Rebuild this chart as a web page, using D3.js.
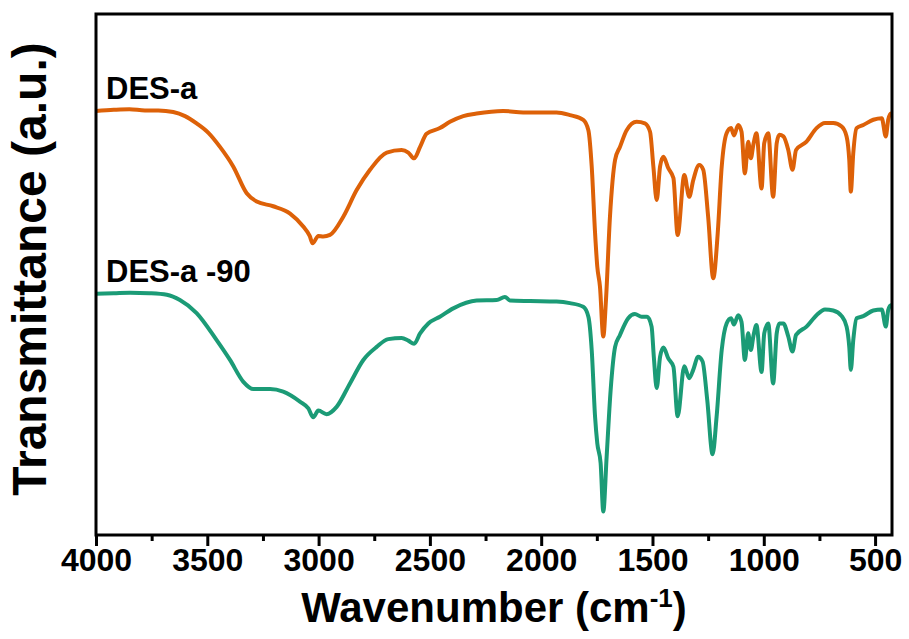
<!DOCTYPE html>
<html>
<head>
<meta charset="utf-8">
<script src="https://cdn.jsdelivr.net/npm/d3@7"></script>
<style>
  body { margin: 0; background: #fff; }
  text { font-family: "Liberation Sans", Arial, sans-serif; font-weight: bold; fill: #000; }
</style>
</head>
<body>
<div id="ftir"></div>
<script>
// wavenumber (cm-1) and transmittance (a.u.)
const desAWave = [4000, 3920, 3850, 3780, 3720, 3653, 3600, 3548, 3495, 3443, 3383, 3323, 3278, 3204, 3128, 3069, 3040, 3027, 3001, 2979, 2949, 2889, 2829, 2769, 2694, 2627, 2597, 2571, 2544, 2515, 2455, 2410, 2350, 2290, 2171, 2081, 1931, 1871, 1811, 1788, 1773, 1758, 1748, 1736, 1721, 1709, 1691, 1668, 1646, 1616, 1571, 1534, 1511, 1496, 1481, 1466, 1451, 1429, 1406, 1387, 1357, 1335, 1317, 1290, 1272, 1250, 1227, 1207, 1189, 1167, 1147, 1134, 1115, 1100, 1085, 1070, 1058, 1047, 1033, 1010, 998, 980, 958, 942, 930, 912, 890, 871, 855, 808, 763, 725, 688, 650, 628, 616, 609, 598, 583, 553, 508, 470, 452, 441, 429, 424];
const desAValues = [81.4, 81.6, 81.7, 81.5, 81.5, 81.2, 80.4, 79.0, 77.2, 74.5, 70.7, 65.6, 64.0, 63.1, 61.7, 59.2, 57.4, 56.0, 57.4, 57.3, 57.6, 61.1, 66.2, 70.1, 73.4, 73.9, 73.4, 72.3, 74.5, 77.0, 78.1, 79.3, 80.4, 80.9, 81.4, 81.1, 81.1, 80.6, 79.7, 77.7, 70.7, 58.0, 51.5, 47.7, 38.1, 45.1, 61.1, 72.0, 74.5, 77.7, 79.3, 79.0, 77.4, 70.7, 64.3, 70.7, 72.6, 70.4, 68.5, 57.6, 69.1, 64.9, 68.1, 71.0, 70.1, 61.1, 49.3, 57.9, 70.7, 77.1, 78.1, 76.7, 78.7, 77.4, 69.4, 75.5, 72.3, 74.9, 77.1, 66.5, 75.2, 77.1, 64.9, 75.2, 76.8, 76.5, 73.9, 70.1, 73.9, 75.5, 78.1, 79.1, 79.1, 78.4, 76.5, 72.0, 65.9, 73.3, 78.1, 78.7, 79.7, 80.0, 76.5, 79.7, 80.9, 80.8];

const desA90Wave = [4000, 3920, 3847, 3760, 3682, 3623, 3548, 3458, 3398, 3338, 3293, 3218, 3159, 3084, 3046, 3024, 3001, 2964, 2919, 2859, 2799, 2739, 2687, 2627, 2597, 2571, 2544, 2507, 2455, 2395, 2290, 2200, 2163, 2140, 2050, 1931, 1871, 1811, 1788, 1773, 1758, 1748, 1733, 1721, 1706, 1688, 1668, 1646, 1609, 1579, 1549, 1524, 1504, 1494, 1481, 1466, 1451, 1429, 1406, 1387, 1357, 1335, 1317, 1295, 1275, 1254, 1230, 1212, 1189, 1167, 1147, 1134, 1115, 1100, 1085, 1070, 1058, 1047, 1033, 1010, 998, 980, 958, 942, 930, 912, 890, 871, 855, 808, 763, 725, 688, 650, 628, 616, 609, 598, 583, 553, 508, 470, 452, 441, 429, 424];
const desA90Values = [46.3, 46.4, 46.5, 46.4, 46.1, 45.1, 42.6, 37.4, 33.6, 29.4, 28.0, 28.0, 27.5, 25.6, 24.3, 22.6, 23.9, 23.2, 24.6, 29.1, 33.6, 36.1, 37.6, 37.8, 37.3, 36.7, 38.7, 40.6, 41.9, 43.5, 45.0, 45.1, 45.7, 45.0, 44.9, 44.8, 44.5, 43.8, 41.9, 35.5, 22.7, 17.6, 13.8, 4.5, 15.0, 27.8, 36.1, 38.4, 41.6, 42.4, 41.9, 41.9, 40.0, 34.2, 28.2, 34.2, 36.0, 33.9, 32.3, 22.8, 32.4, 30.1, 31.7, 34.2, 33.3, 25.9, 15.5, 22.7, 35.5, 40.6, 41.6, 40.4, 42.2, 40.9, 33.6, 38.7, 35.5, 38.1, 40.3, 31.3, 38.7, 40.6, 29.1, 38.7, 40.6, 40.6, 38.1, 35.2, 38.4, 40.0, 42.2, 43.3, 43.1, 42.0, 40.0, 36.1, 31.7, 37.4, 41.6, 42.0, 43.1, 43.3, 40.0, 43.2, 44.1, 44.1];

const seriesNames = ["DES-a", "DES-a -90"];
const seriesColors = ["#dd6108", "#1b9b76"];
const majorTicks = [4000, 3500, 3000, 2500, 2000, 1500, 1000, 500];
const minorTicks = [3750, 3250, 2750, 2250, 1750, 1250, 750];

const margin = { top: 14, right: 17, bottom: 104, left: 96 };
const width = 909 - margin.left - margin.right;
const height = 639 - margin.top - margin.bottom;

const svg = d3.select("#ftir")
    .append("svg")
    .attr("width", 909)
    .attr("height", 639)
    .append("g")
    .attr("transform", `translate(${margin.left}, ${margin.top})`);

const x = d3.scaleLinear().domain([4000, 424]).range([0, width]);
const y = d3.scaleLinear().domain([0, 100]).range([height, 0]);

const series = [
    { name: seriesNames[0], color: seriesColors[0], pts: desAWave.map((w, i) => ({ w: w, t: desAValues[i] })) },
    { name: seriesNames[1], color: seriesColors[1], pts: desA90Wave.map((w, i) => ({ w: w, t: desA90Values[i] })) }
];

const line = d3.line()
    .x(d => x(d.w))
    .y(d => y(d.t))
    .curve(d3.curveMonotoneX);

// spectra
svg.selectAll(".spectrum")
    .data(series)
    .enter()
    .append("path")
    .attr("class", "spectrum")
    .attr("d", d => line(d.pts))
    .attr("fill", "none")
    .attr("stroke", d => d.color)
    .attr("stroke-width", 4)
    .attr("stroke-linejoin", "round");

// labels sit just above each curve's start
svg.selectAll(".label")
    .data(series)
    .enter()
    .append("text")
    .attr("class", "label")
    .attr("x", 10)
    .attr("y", d => y(d.pts[0].t) - 12)
    .attr("font-size", 31)
    .text(d => d.name);

// minor ticks
svg.append("g")
    .attr("transform", `translate(0, ${height})`)
    .call(d3.axisBottom(x).tickValues(minorTicks).tickSize(6).tickFormat(""))
    .call(g => g.select(".domain").remove())
    .call(g => g.selectAll("line").attr("stroke-width", 3));

// major ticks + labels
svg.append("g")
    .attr("class", "x-axis")
    .attr("transform", `translate(0, ${height})`)
    .call(d3.axisBottom(x).tickValues(majorTicks).tickSize(11).tickPadding(2).tickFormat(d3.format("d")))
    .call(g => g.select(".domain").remove())
    .call(g => g.selectAll("line").attr("stroke-width", 3))
    .call(g => g.selectAll("text").attr("font-size", 32).attr("font-family", null));

// frame
svg.append("rect")
    .attr("width", width)
    .attr("height", height)
    .attr("fill", "none")
    .attr("stroke", "#000")
    .attr("stroke-width", 3);

svg.append("text")
    .attr("x", width / 2)
    .attr("y", height + 87)
    .attr("text-anchor", "middle")
    .attr("font-size", 42)
    .html('Wavenumber (cm<tspan dy="-15" font-size="26">-1</tspan><tspan dy="15">)</tspan>');

svg.append("text")
    .attr("transform", "rotate(-90)")
    .attr("x", -255)
    .attr("y", -50)
    .attr("text-anchor", "middle")
    .attr("font-size", 48)
    .text("Transmittance (a.u.)");
</script>
</body>
</html>
